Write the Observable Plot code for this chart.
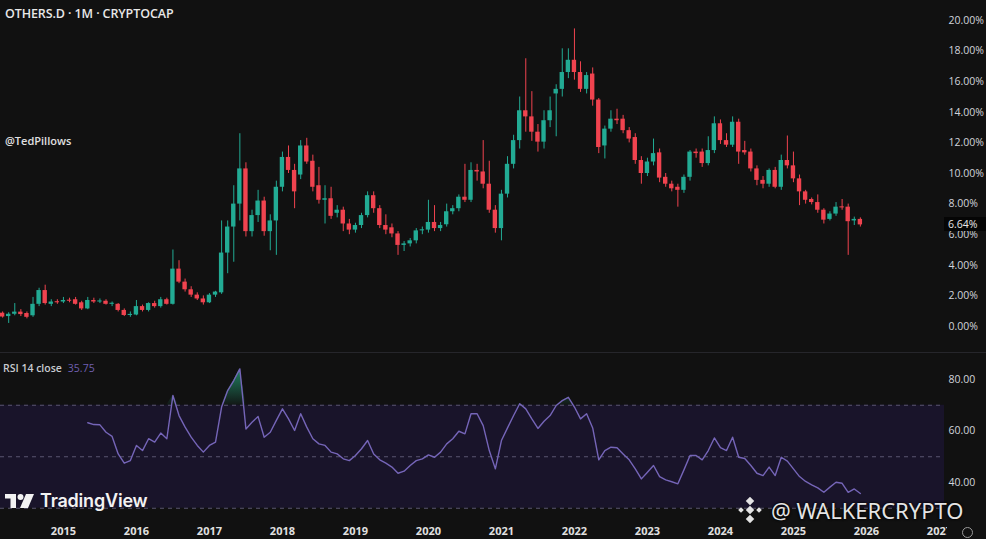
<!DOCTYPE html>
<html><head><meta charset="utf-8">
<script src="https://cdn.jsdelivr.net/npm/d3@7"></script>
<script src="https://cdn.jsdelivr.net/npm/@observablehq/plot@0.6"></script>
<style>
html,body{margin:0;padding:0;}
body{background:#111111;width:986px;height:539px;overflow:hidden;position:relative;font-family:"Open Sans","Noto Sans",sans-serif;}
#main{position:absolute;left:0;top:0;}
#rsi{position:absolute;left:0;top:354px;}
.sep{position:absolute;left:0;top:352px;width:986px;height:1px;background:#26262b;}
.title{position:absolute;left:5px;top:5px;color:#e8e8e8;font-size:12.5px;font-weight:600;letter-spacing:-0.1px;}
.author{position:absolute;left:5px;top:133px;color:#e0e0e0;font-size:11px;font-weight:600;}
.rsilab{position:absolute;left:3px;top:361px;color:#c8cad0;font-size:10.5px;font-weight:600;}
.rsilab span{color:#6f5fb0;font-weight:400;margin-left:6px;}
.tv{position:absolute;left:5px;top:490px;display:flex;align-items:center;color:#f2f2f2;font-size:18px;font-weight:600;font-family:"Inter","Open Sans",sans-serif;letter-spacing:-0.2px;}
.tv svg{margin-right:5px;}
.wm{position:absolute;left:737px;top:495px;display:flex;align-items:center;color:#e4e4e4;font-family:"Noto Sans",sans-serif;font-size:22px;font-weight:400;text-shadow:0 0 3px #000,0 0 2px #000;}
.wm svg{margin-right:8px;}
.cover{position:absolute;left:947px;top:522px;width:39px;height:17px;background:#111111;}
.gear{position:absolute;left:962px;top:527px;width:9px;height:9px;border:1.5px solid #9a9a9a;border-radius:50%;}
.pricebox{position:absolute;left:944px;width:42px;height:14px;background:#050505;color:#e8e8e8;font-size:10.5px;font-weight:500;line-height:14px;padding-left:4px;box-sizing:border-box;}
</style></head>
<body>
<div id="main"></div>
<div class="sep"></div>
<div id="rsi"></div>
<div class="title">OTHERS.D · 1M · CRYPTOCAP</div>
<div class="author">@TedPillows</div>
<div class="rsilab">RSI 14 close<span>35.75</span></div>
<div class="tv"><svg width="30" height="16" viewBox="0 0 30 16"><rect x="0" y="1" width="11" height="4.5" fill="#f2f2f2"/><rect x="5.5" y="1" width="5.5" height="14" fill="#f2f2f2"/><circle cx="15.5" cy="4" r="3" fill="#f2f2f2"/><polygon points="21,1 29,1 23,15 15,15" fill="#f2f2f2"/></svg>TradingView</div>
<div class="wm"><svg width="26" height="26" viewBox="0 0 26 26"><g fill="#e4e4e4"><rect x="10" y="1" width="6" height="6" transform="rotate(45 13 4)"/><rect x="10" y="19" width="6" height="6" transform="rotate(45 13 22)"/><rect x="10" y="10" width="6" height="6" transform="rotate(45 13 13)"/><rect x="2" y="11" width="4" height="4" transform="rotate(45 4 13)"/><rect x="20" y="11" width="4" height="4" transform="rotate(45 22 13)"/></g></svg>@ WALKERCRYPTO</div>
<div class="cover"></div>
<div class="gear"></div>
<script>
// Monthly candles of OTHERS.D, first candle March 2014
const startYear = 2014, startMonth = 3;
const opens = [0.87,0.65,0.8,0.94,0.85,0.7,1.45,2.35,1.45,1.6,
1.6,1.7,1.75,1.55,1.15,1.7,1.6,1.65,1.45,1.45,
1.05,0.72,0.75,1.3,1.05,1.5,1.3,1.75,1.45,3.75,
2.9,2.4,2.05,1.8,1.55,2.05,2.2,4.8,6.5,8.0,
10.3,6.2,7.25,8.2,6.2,6.9,9.1,11.05,10.2,9.9,
11.8,10.8,9.2,8.25,8.35,7.4,7.6,6.7,6.3,6.6,
7.25,8.55,7.7,6.6,6.45,6.05,5.3,5.4,5.6,6.25,
6.3,6.8,6.4,6.65,7.5,7.7,8.45,8.25,10.2,10.1,
9.3,7.6,6.4,8.65,10.6,12.15,14.1,13.7,12.7,12.05,
13.45,15.2,15.5,16.6,17.4,16.6,15.5,16.5,14.8,11.8,
12.9,13.55,13.55,12.8,12.35,10.85,10.0,10.75,11.35,9.75,
9.3,9.1,8.9,9.75,11.4,11.4,10.65,11.5,13.25,12.15,
11.85,13.35,11.5,11.4,10.3,9.55,9.3,10.2,9.1,10.85,
10.5,9.65,8.8,8.3,8.1,7.6,7.0,7.35,7.8,7.8,
6.9,7.0];
const highs = [0.95,0.9,1.5,1.1,0.95,1.9,2.5,2.7,1.75,1.75,
1.9,1.85,1.9,1.65,1.9,1.85,1.8,1.75,1.6,1.5,
1.15,0.95,1.7,1.4,1.55,1.65,1.9,1.85,5.0,4.3,
3.1,2.6,2.2,2.0,2.15,2.3,6.9,6.9,9.2,12.6,
10.7,7.6,8.9,8.45,7.3,9.5,11.4,11.8,10.6,12.15,
12.3,11.2,10.4,9.2,9.1,7.9,7.8,7.0,6.75,7.4,
8.8,8.8,7.9,7.3,6.7,6.2,5.55,5.75,6.4,6.5,
8.25,7.9,6.8,8.0,7.9,8.6,10.6,10.7,10.6,12.15,
10.8,7.9,8.9,11.1,12.5,15.0,17.5,15.35,13.2,14.1,
15.0,15.8,18.15,18.15,19.45,17.3,16.6,16.9,14.9,13.1,
14.1,14.2,13.8,13.0,12.6,11.1,11.0,12.25,11.6,10.0,
9.5,9.3,9.9,11.5,11.6,11.6,12.4,13.7,13.5,12.6,
13.7,13.55,12.1,11.6,10.5,9.8,10.3,10.4,11.2,12.45,
11.4,9.9,8.9,8.4,8.6,7.7,7.5,8.1,8.3,8.0,
7.15,7.1];
const lows = [0.55,0.2,0.7,0.65,0.5,0.6,1.3,1.4,1.3,1.45,
1.5,1.55,1.4,1.05,1.1,1.5,1.5,1.4,1.3,0.95,
0.65,0.6,0.7,0.95,0.95,1.2,1.2,1.4,1.4,2.8,
2.25,1.9,1.7,1.4,1.5,1.9,2.1,3.45,4.2,6.9,
5.85,5.85,6.8,5.9,4.95,4.65,8.8,10.0,7.7,9.6,
10.6,8.8,8.0,6.7,7.0,7.1,6.2,6.0,6.1,6.4,
7.1,7.4,6.4,6.0,5.8,4.65,4.9,5.2,5.4,6.0,
6.1,6.2,6.2,6.5,7.3,7.5,8.1,8.1,9.5,9.0,
7.4,6.1,5.6,8.4,10.3,11.6,12.7,12.1,11.4,11.6,
13.0,12.4,15.0,16.2,16.1,15.3,15.2,14.4,11.3,10.95,
12.7,13.2,12.6,12.0,10.6,9.3,9.8,10.5,9.4,9.1,
8.8,7.8,8.7,9.5,11.0,10.4,10.5,11.3,11.9,11.7,
11.7,10.6,11.2,10.1,9.2,9.0,9.1,9.0,8.9,10.3,
9.4,7.9,8.0,7.95,7.4,6.7,6.9,7.2,7.6,4.65,
6.6,6.5];
const closes = [0.62,0.8,0.94,0.78,0.6,1.45,2.35,1.5,1.6,1.55,
1.7,1.65,1.45,1.15,1.7,1.6,1.65,1.45,1.5,1.05,
0.72,0.75,1.3,1.05,1.5,1.3,1.75,1.45,3.75,2.9,
2.4,2.05,1.8,1.55,2.05,2.25,4.8,6.5,8.0,10.3,
6.2,7.25,8.2,6.2,6.9,9.1,11.05,10.2,8.8,11.8,
10.75,9.1,8.25,8.35,7.2,7.6,6.7,6.3,6.6,7.25,
8.55,7.7,6.6,6.3,6.05,5.3,5.4,5.6,6.25,6.3,
6.8,6.4,6.6,7.5,7.7,8.45,8.25,10.2,10.1,9.3,
7.6,6.4,8.65,10.6,12.15,14.1,13.7,12.7,12.05,13.45,
14.1,15.5,16.6,17.4,16.6,15.5,16.4,14.8,11.7,12.9,
13.55,13.45,12.8,12.25,10.85,10.0,10.75,11.3,9.7,9.3,
9.0,8.9,9.75,11.4,11.3,10.65,11.5,13.25,12.15,11.85,
13.35,11.4,11.35,10.3,9.55,9.3,10.2,9.1,10.85,10.5,
9.65,8.8,8.25,8.1,7.6,6.95,7.35,7.8,7.75,6.85,
7.0,6.64];
// RSI 14 (close), first value at candle 14 (May 2015)
const rsiStart = 14;
const rsiValues = [63.2,62.5,62.4,59.5,57.9,51.1,47.5,48.5,54.4,52.4,
57.0,55.7,59.2,57.0,73.8,66.0,61.5,57.6,54.4,51.8,
54.4,55.7,69.3,75.7,79.6,84.1,60.8,63.4,65.6,57.6,
59.5,64.1,68.6,64.7,60.2,66.7,61.5,57.0,55.0,54.4,
51.8,51.1,49.2,48.5,50.5,53.1,56.3,51.1,48.8,47.5,
46.0,43.6,44.4,46.6,48.5,49.2,50.7,49.8,51.8,55.0,
57.0,59.9,58.9,66.7,66.7,62.1,52.4,45.3,56.3,61.2,
66.0,70.6,68.6,64.7,61.0,63.8,66.0,69.9,71.8,73.1,
69.3,64.7,66.7,61.2,48.8,52.4,53.7,53.5,51.1,48.8,
45.3,41.4,44.0,46.6,42.3,41.0,40.3,39.5,44.9,50.5,
50.5,48.8,52.4,57.3,53.5,52.4,57.6,49.8,49.3,46.6,
43.6,42.7,46.0,42.7,49.8,48.3,45.3,42.3,40.4,39.1,
37.9,36.2,38.2,40.1,39.7,36.2,37.5,35.75];
const years = ["2015","2016","2017","2018","2019","2020","2021","2022","2023","2024","2025","2026","2027"];
const priceTicks = [0,2,4,6,8,10,12,14,16,18,20];
const rsiTicks = [40,60,80];
const rsiLevels = [70,50,30];
const rsiBand = [{lo:30, hi:70}];

const UP = "#22ab94", DOWN = "#f0434f";
const candles = opens.map((o,i)=>({i, open:o, high:highs[i], low:lows[i], close:closes[i],
  color: closes[i] >= o ? UP : DOWN,
  bLo: Math.min(o, closes[i]), bHi: Math.max(Math.max(o, closes[i]), Math.min(o, closes[i]) + 0.07)}));
const rsi = rsiValues.map((v,k)=>({i: rsiStart + k, v}));
const yearIdx = years.map(y => (+y - startYear)*12 - (startMonth - 1));
const xDomain = [-0.345, 154.83];
const font = '"Open Sans","Noto Sans",sans-serif';

const main = Plot.plot({
  width: 986, height: 353, marginLeft: 0, marginRight: 42, marginTop: 0, marginBottom: 0,
  style: {background: "transparent", color: "#d1d4dc", fontFamily: font, fontSize: "10.5px", fontWeight: 500},
  x: {domain: xDomain, axis: null},
  y: {domain: [0, 20], range: [326, 20], axis: null},
  color: {type: "identity"},
  marks: [
    Plot.ruleX(candles, {x: "i", y1: "low", y2: "high", stroke: "color", strokeWidth: 1}),
    Plot.rect(candles, {x1: d => d.i - 0.36, x2: d => d.i + 0.36, y1: "bLo", y2: "bHi", fill: "color"}),
    Plot.axisY({anchor: "right", ticks: priceTicks, tickFormat: d => d.toFixed(2) + "%", tickSize: 0, tickPadding: 4, fill: "#d1d4dc"})
  ]
});
document.getElementById("main").appendChild(main);

// last price label
const lastClose = closes[closes.length - 1];
const py = main.scale("y").apply(lastClose);
const box = document.createElement("div");
box.className = "pricebox";
box.style.top = (py - 7) + "px";
box.textContent = lastClose.toFixed(2) + "%";
document.body.appendChild(box);

// overbought gradient (green, fading toward the 70 level)
const gradientDefs = (index, scales) => {
  const g = d3.create("svg:defs");
  const lg = g.append("linearGradient").attr("id", "obGrad").attr("gradientUnits", "userSpaceOnUse")
    .attr("x1", 0).attr("x2", 0).attr("y1", scales.y(84)).attr("y2", scales.y(70));
  lg.append("stop").attr("offset", "0%").attr("stop-color", "#26a87e").attr("stop-opacity", 0.75);
  lg.append("stop").attr("offset", "100%").attr("stop-color", "#26a87e").attr("stop-opacity", 0.05);
  return g.node();
};

const rsiPlot = Plot.plot({
  width: 986, height: 185, marginLeft: 0, marginRight: 42, marginTop: 0, marginBottom: 20,
  style: {background: "transparent", color: "#d1d4dc", fontFamily: font, fontSize: "10.5px", fontWeight: 500},
  x: {domain: xDomain, axis: null},
  y: {domain: [30, 80], range: [153.75, 25], axis: null},
  marks: [
    gradientDefs,
    Plot.rect(rsiBand, {y1: "lo", y2: "hi", fill: "#19142a"}),
    Plot.ruleY(rsiLevels, {stroke: "#5a5470", strokeDasharray: "4,4", strokeWidth: 1}),
    Plot.areaY(rsi, {x: "i", y1: 70, y2: d => Math.max(70, d.v), fill: "url(#obGrad)"}),
    Plot.line(rsi, {x: "i", y: "v", stroke: "#7565b8", strokeWidth: 1.4}),
    Plot.axisY({anchor: "right", ticks: rsiTicks, tickFormat: d => d.toFixed(2), tickSize: 0, tickPadding: 4, fill: "#d1d4dc"}),
    Plot.axisX({anchor: "bottom", ticks: yearIdx, tickFormat: (d) => years[yearIdx.indexOf(d)], tickSize: 0, tickPadding: 8, fontWeight: 700, fontSize: 11, fill: "#e0e0e0"})
  ]
});
document.getElementById("rsi").appendChild(rsiPlot);
</script>
</body></html>
